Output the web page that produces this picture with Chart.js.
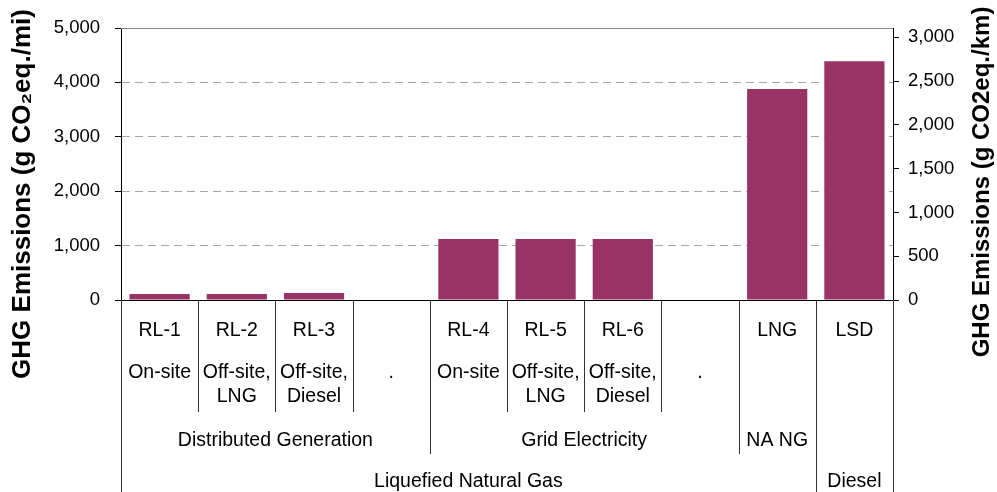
<!DOCTYPE html>
<html>
<head>
<meta charset="utf-8">
<script src="https://cdn.jsdelivr.net/npm/chart.js@4.4.0/dist/chart.umd.min.js"></script>
<style>
    html, body { margin: 0; padding: 0; background: #fff; }
    canvas { display: block; }
</style>
</head>
<body>
<canvas id="ghgChart" width="997" height="492"></canvas>
<script>
// Chart data
const categories = ['RL-1', 'RL-2', 'RL-3', '', 'RL-4', 'RL-5', 'RL-6', '', 'LNG', 'LSD'];
const pathways = [['On-site'], ['Off-site,', 'LNG'], ['Off-site,', 'Diesel'], ['.'],
    ['On-site'], ['Off-site,', 'LNG'], ['Off-site,', 'Diesel'], ['.'], [], []];
const emissions = [110, 110, 130, null, 1120, 1120, 1120, null, 3880, 4390];
const sourceLabels = ['Distributed Generation', 'Grid Electricity', 'NA NG', ''];
const sourceSpans = [[0, 3], [4, 7], [8, 8], [9, 9]];
const fuelLabels = ['Liquefied Natural Gas', 'Diesel'];
const fuelSpans = [[0, 8], [9, 9]];
const leftTicks = [0, 1000, 2000, 3000, 4000, 5000];
const rightTicks = [0, 500, 1000, 1500, 2000, 2500, 3000];
const KM_PER_MI = 1.609344;

const labelFont = '19.5px "Liberation Sans", Arial, sans-serif';
const tickFont = { family: '"Liberation Sans", Arial, sans-serif', size: 18.5 };

// Multi-level category axis and axis titles
const categoryAxisPlugin = {
    id: 'categoryAxis',
    afterDraw(chart) {
        const { ctx, chartArea } = chart;
        const x = chart.scales.x;
        const band = x.width / categories.length;
        const edge = i => x.getPixelForValue(i) - band / 2;
        const bottom = chart.height;
        const row1 = chartArea.bottom + 31;
        const row2 = chartArea.bottom + 73;
        const level1End = chartArea.bottom + 112;
        const level2Y = chartArea.bottom + 141;
        const level2End = chartArea.bottom + 154;
        const level3Y = chartArea.bottom + 182;

        ctx.save();
        // top border of plot area
        ctx.strokeStyle = '#888';
        ctx.lineWidth = 1;
        ctx.beginPath();
        ctx.moveTo(chartArea.left, chartArea.top + 0.5);
        ctx.lineTo(chartArea.right, chartArea.top + 0.5);
        ctx.stroke();

        // divider lines
        ctx.strokeStyle = '#333';
        for (let i = 0; i <= categories.length; i++) {
            let end = level1End;
            if (sourceSpans.some(s => s[0] === i)) end = level2End;
            if (fuelSpans.some(s => s[0] === i) || i === categories.length) end = bottom;
            const px = Math.round(edge(i)) + 0.5;
            ctx.beginPath();
            ctx.moveTo(px, chartArea.bottom);
            ctx.lineTo(px, end);
            ctx.stroke();
        }

        // labels
        ctx.fillStyle = '#000';
        ctx.font = labelFont;
        ctx.textAlign = 'center';
        ctx.textBaseline = 'middle';
        categories.forEach((c, i) => {
            const cx = x.getPixelForValue(i);
            ctx.fillText(c, cx, row1);
            pathways[i].forEach((line, j) => ctx.fillText(line, cx, row2 + j * 24));
        });
        sourceSpans.forEach((s, k) => {
            const cx = (edge(s[0]) + edge(s[1] + 1)) / 2;
            ctx.fillText(sourceLabels[k], cx, level2Y);
        });
        fuelSpans.forEach((s, k) => {
            const cx = (edge(s[0]) + edge(s[1] + 1)) / 2;
            ctx.fillText(fuelLabels[k], cx, level3Y);
        });

        // axis titles
        ctx.font = 'bold 26px "Liberation Sans", Arial, sans-serif';
        ctx.save();
        ctx.translate(23, 194);
        ctx.rotate(-Math.PI / 2);
        ctx.fillText('GHG Emissions (g CO\u2082eq./mi)', 0, 0);
        ctx.restore();
        ctx.font = 'bold 24px "Liberation Sans", Arial, sans-serif';
        ctx.save();
        ctx.translate(982, 182);
        ctx.rotate(-Math.PI / 2);
        ctx.fillText('GHG Emissions (g CO2eq./km)', 0, 0);
        ctx.restore();
        ctx.restore();
    }
};

const ctx = document.getElementById('ghgChart').getContext('2d');
new Chart(ctx, {
    type: 'bar',
    data: {
        labels: categories,
        datasets: [{
            data: emissions,
            backgroundColor: '#993366',
            borderWidth: 0,
            barPercentage: 0.78,
            categoryPercentage: 1.0
        }]
    },
    options: {
        responsive: false,
        animation: false,
        devicePixelRatio: 1,
        layout: { padding: { top: 28, left: 0, right: 0, bottom: 0 } },
        plugins: {
            legend: { display: false },
            tooltip: { enabled: false }
        },
        scales: {
            x: {
                offset: true,
                grid: { display: false },
                ticks: { display: false },
                border: { color: '#000', width: 1 },
                afterFit: scale => { scale.height = 192; }
            },
            y: {
                position: 'left',
                min: 0,
                max: 5000,
                afterBuildTicks: scale => { scale.ticks = leftTicks.map(v => ({ value: v })); },
                ticks: {
                    color: '#000',
                    font: tickFont,
                    padding: 15,
                    callback: v => v.toLocaleString('en-US')
                },
                grid: {
                    color: c => (c.tick && (c.tick.value === 0 || c.tick.value === 5000)) ? 'rgba(0,0,0,0)' : '#a6a6a6',
                    tickColor: '#000',
                    tickLength: 6
                },
                border: { color: '#000', width: 1, dash: [8, 5] },
                afterFit: scale => { scale.width = 121; }
            },
            y2: {
                position: 'right',
                min: 0,
                max: 5000 / KM_PER_MI,
                afterBuildTicks: scale => { scale.ticks = rightTicks.map(v => ({ value: v })); },
                ticks: {
                    color: '#000',
                    font: tickFont,
                    padding: 9,
                    callback: v => v.toLocaleString('en-US')
                },
                grid: {
                    drawOnChartArea: false,
                    tickColor: '#000',
                    tickLength: 6
                },
                border: { color: '#000', width: 1 },
                afterFit: scale => { scale.width = 104; }
            }
        }
    },
    plugins: [categoryAxisPlugin]
});
</script>
</body>
</html>
